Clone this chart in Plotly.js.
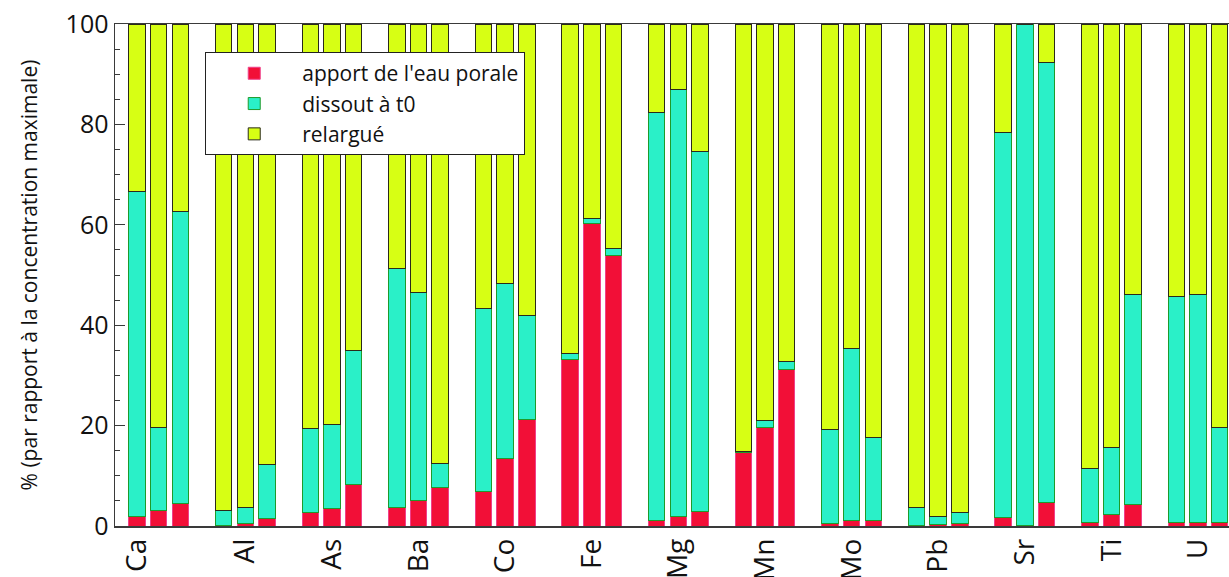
<!DOCTYPE html>
<html>
<head>
<meta charset="utf-8">
<script src="https://cdn.plot.ly/plotly-3.0.1.min.js"></script>
<style>html,body{margin:0;padding:0;background:#fff;}#chart{width:1229px;height:577px;}</style>
</head>
<body>
<div id="chart"></div>
<script>
// Elements (groups), each with three samples
const elements = ['Ca','Al','As','Ba','Co','Fe','Mg','Mn','Mo','Pb','Sr','Ti','U'];
const seriesNames = ["apport de l'eau porale", 'dissout à t0', 'relargué'];

// Segment heights (%), three samples per element, in element order
const apport = [
  1.9, 3.1, 4.4,    // Ca
  0.1, 0.5, 1.5,    // Al
  2.6, 3.4, 8.2,    // As
  3.7, 5.1, 7.6,    // Ba
  6.8, 13.5, 21.2,  // Co
  33.1, 60.3, 53.8, // Fe
  1.0, 1.8, 2.9,    // Mg
  14.6, 19.6, 31.1, // Mn
  0.5, 1.1, 1.0,    // Mo
  0.1, 0.3, 0.4,    // Pb
  1.7, 0.1, 4.6,    // Sr
  0.7, 2.2, 4.3,    // Ti
  0.6, 0.7, 0.7     // U
];
const dissout = [
  64.7, 16.5, 58.2, // Ca
  3.0, 3.2, 10.7,   // Al
  16.9, 16.8, 26.7, // As
  47.5, 41.4, 4.8,  // Ba
  36.6, 34.9, 20.8, // Co
  1.3, 1.0, 1.4,    // Fe
  81.4, 85.2, 71.8, // Mg
  0.3, 1.5, 1.7,    // Mn
  18.7, 34.3, 16.6, // Mo
  3.6, 1.5, 2.2,    // Pb
  76.7, 99.9, 87.7, // Sr
  10.8, 13.5, 41.8, // Ti
  45.1, 45.4, 18.9  // U
];
const relargue = [
  33.4, 80.4, 37.4, // Ca
  96.9, 96.3, 87.8, // Al
  80.5, 79.8, 65.1, // As
  48.8, 53.5, 87.6, // Ba
  56.6, 51.6, 58.0, // Co
  65.6, 38.7, 44.8, // Fe
  17.6, 13.0, 25.3, // Mg
  85.1, 78.9, 67.2, // Mn
  80.8, 64.6, 82.4, // Mo
  96.3, 98.2, 97.4, // Pb
  21.6, 0.0, 7.7,   // Sr
  88.5, 84.3, 53.9, // Ti
  54.3, 53.9, 80.4  // U
];

const samplesPerGroup = 3;
const slotsPerGroup = 4;
const xs = [];
elements.forEach((el, g) => { for (let j = 0; j < samplesPerGroup; j++) xs.push(g * slotsPerGroup + j); });
const tickvals = elements.map((el, g) => g === 0 ? 0 : g * slotsPerGroup + 1);

const fillColors = ['#f20f37', '#2af0c8', '#d7ff14'];
const lineColors = ['#f0408a', '#1f9a2a', '#2a2a1a'];
const values = [apport, dissout, relargue];

const traces = values.map((v, i) => ({
  type: 'bar',
  name: seriesNames[i],
  x: xs,
  y: v,
  marker: { color: fillColors[i], line: { color: lineColors[i], width: 1 } },
  hoverinfo: 'skip'
}));

const font = "'Open Sans', 'Noto Sans', sans-serif";
const layout = {
  width: 1229, height: 577,
  margin: { l: 115, r: 0, t: 24, b: 51 },
  barmode: 'stack',
  bargap: 0.24,
  paper_bgcolor: '#ffffff',
  plot_bgcolor: '#ffffff',
  font: { family: font, color: '#111', size: 22 },
  showlegend: true,
  legend: {
    x: 0.081, y: 0.944, xanchor: 'left', yanchor: 'top',
    bordercolor: '#222', borderwidth: 1, bgcolor: '#ffffff',
    font: { family: font, size: 21, color: '#111' },
    itemwidth: 86,
    traceorder: 'normal',
    tracegroupgap: 0
  },
  xaxis: {
    range: [-1.02, 50.43],
    tickmode: 'array',
    tickvals: tickvals,
    ticktext: elements,
    tickangle: -90,
    ticks: '',
    showgrid: false,
    zeroline: false,
    showline: true,
    mirror: true,
    linecolor: '#3a3a3a',
    linewidth: 1.5,
    tickfont: { family: font, size: 28, color: '#111' }
  },
  yaxis: {
    range: [0, 100],
    tickmode: 'linear', tick0: 0, dtick: 20,
    ticks: 'inside', ticklen: 10, tickwidth: 1, tickcolor: '#3a3a3a',
    minor: { dtick: 5, ticks: 'inside', ticklen: 5, tickwidth: 1, tickcolor: '#3a3a3a', showgrid: false },
    showgrid: false,
    zeroline: false,
    showline: true,
    linecolor: '#3a3a3a',
    linewidth: 1.5,
    tickfont: { family: font, size: 25, color: '#111' },
    title: { text: '% (par rapport à la concentration maximale)', font: { family: font, size: 21, color: '#111' }, standoff: 22 }
  }
};

Plotly.newPlot('chart', traces, layout, { displayModeBar: false, staticPlot: true });
</script>
</body>
</html>
